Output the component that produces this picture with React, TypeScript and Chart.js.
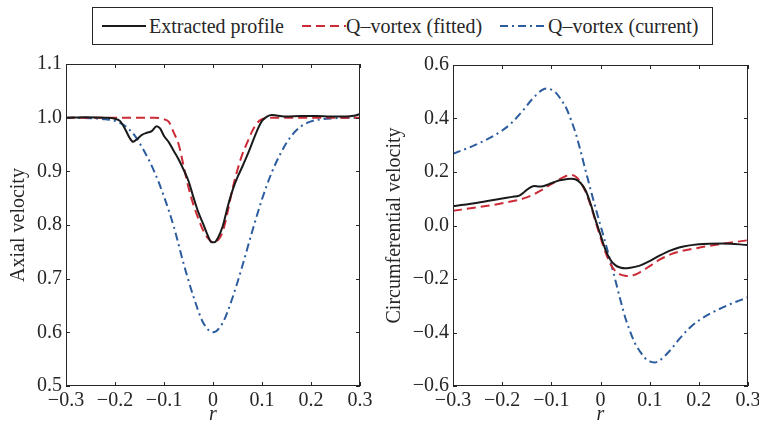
import React, { useEffect, useRef } from "react";
import { Chart, registerables } from "chart.js";

Chart.register(...registerables);

// ---------- Data ----------
const axialExtractedR = [-0.3, -0.26, -0.22, -0.2, -0.19, -0.18, -0.17, -0.163, -0.155, -0.145, -0.135, -0.125, -0.115, -0.108, -0.1, -0.09, -0.08, -0.07, -0.06, -0.05, -0.04, -0.03, -0.02, -0.01, -0.003, 0.003, 0.01, 0.02, 0.03, 0.04, 0.05, 0.06, 0.07, 0.08, 0.09, 0.1, 0.11, 0.12, 0.13, 0.15, 0.18, 0.21, 0.24, 0.27, 0.29, 0.3];
const axialExtracted = [1.0, 1.001, 1.0, 0.998, 0.994, 0.98, 0.962, 0.955, 0.96, 0.968, 0.972, 0.975, 0.984, 0.98, 0.966, 0.954, 0.938, 0.922, 0.903, 0.882, 0.852, 0.824, 0.802, 0.779, 0.768, 0.768, 0.776, 0.798, 0.834, 0.865, 0.889, 0.909, 0.93, 0.953, 0.976, 0.994, 1.002, 1.005, 1.004, 1.002, 1.003, 1.003, 1.002, 1.002, 1.004, 1.007];

const axialFittedR = [-0.3, -0.2, -0.12, -0.1, -0.09, -0.08, -0.07, -0.06, -0.05, -0.04, -0.03, -0.02, -0.01, 0, 0.01, 0.02, 0.03, 0.04, 0.05, 0.06, 0.07, 0.08, 0.09, 0.1, 0.12, 0.2, 0.3];
const axialFitted = [1.0, 1.0, 1.0, 0.997, 0.992, 0.972, 0.95, 0.91, 0.87, 0.838, 0.812, 0.79, 0.775, 0.768, 0.772, 0.788, 0.825, 0.868, 0.903, 0.932, 0.954, 0.975, 0.99, 0.997, 1.0, 1.0, 1.0];

const axialCurrentR = [-0.3, -0.25, -0.22, -0.2, -0.18, -0.16, -0.14, -0.12, -0.1, -0.08, -0.06, -0.04, -0.02, 0, 0.02, 0.04, 0.06, 0.08, 0.1, 0.12, 0.14, 0.16, 0.18, 0.2, 0.22, 0.25, 0.3];
const axialCurrent = [1.0, 0.999, 0.997, 0.994, 0.985, 0.967, 0.937, 0.9, 0.853, 0.797, 0.728, 0.667, 0.618, 0.6, 0.618, 0.665, 0.724, 0.788, 0.848, 0.898, 0.937, 0.966, 0.984, 0.993, 0.997, 0.999, 1.0];

const circExtractedR = [-0.3, -0.25, -0.2, -0.18, -0.165, -0.155, -0.145, -0.135, -0.125, -0.115, -0.1, -0.09, -0.08, -0.07, -0.06, -0.05, -0.04, -0.03, -0.02, -0.01, 0, 0.01, 0.02, 0.03, 0.04, 0.05, 0.06, 0.08, 0.1, 0.12, 0.14, 0.16, 0.2, 0.25, 0.3];
const circExtracted = [0.072, 0.085, 0.101, 0.107, 0.112, 0.125, 0.14, 0.148, 0.146, 0.148, 0.158, 0.165, 0.17, 0.173, 0.175, 0.172, 0.158, 0.13, 0.08, 0.02, -0.035, -0.09, -0.128, -0.148, -0.157, -0.16, -0.158, -0.15, -0.133, -0.113, -0.095, -0.082, -0.07, -0.067, -0.073];

const circFittedR = [-0.3, -0.25, -0.2, -0.15, -0.12, -0.1, -0.08, -0.07, -0.06, -0.05, -0.04, -0.03, -0.02, -0.01, 0, 0.01, 0.02, 0.03, 0.04, 0.05, 0.06, 0.07, 0.08, 0.1, 0.12, 0.15, 0.2, 0.25, 0.3];
const circFitted = [0.055, 0.068, 0.083, 0.105, 0.132, 0.155, 0.176, 0.185, 0.189, 0.182, 0.16, 0.125, 0.075, 0.015, -0.045, -0.1, -0.143, -0.17, -0.183, -0.188, -0.189, -0.184, -0.175, -0.152, -0.128, -0.103, -0.083, -0.068, -0.055];

const circCurrentR = [-0.3, -0.25, -0.2, -0.18, -0.16, -0.14, -0.12, -0.11, -0.1, -0.09, -0.08, -0.07, -0.06, -0.05, -0.04, -0.03, -0.02, -0.01, 0, 0.01, 0.02, 0.03, 0.04, 0.05, 0.06, 0.07, 0.08, 0.09, 0.1, 0.11, 0.12, 0.14, 0.16, 0.18, 0.2, 0.25, 0.3];
const circCurrent = [0.268, 0.305, 0.355, 0.385, 0.425, 0.47, 0.505, 0.512, 0.508, 0.495, 0.47, 0.44, 0.395, 0.342, 0.275, 0.203, 0.133, 0.065, 0.0, -0.065, -0.133, -0.203, -0.275, -0.342, -0.395, -0.44, -0.47, -0.495, -0.508, -0.512, -0.505, -0.47, -0.425, -0.385, -0.355, -0.305, -0.268];

const xTickValues = [-0.3, -0.2, -0.1, 0, 0.1, 0.2, 0.3];
const xTickLabels = ["\u22120.3", "\u22120.2", "\u22120.1", "0", "0.1", "0.2", "0.3"];
const axialTickValues = [0.5, 0.6, 0.7, 0.8, 0.9, 1.0, 1.1];
const axialTickLabels = ["0.5", "0.6", "0.7", "0.8", "0.9", "1.0", "1.1"];
const circTickValues = [-0.6, -0.4, -0.2, 0, 0.2, 0.4, 0.6];
const circTickLabels = ["\u22120.6", "\u22120.4", "\u22120.2", "0.0", "0.2", "0.4", "0.6"];

const seriesNames = ["Extracted profile", "Q\u2013vortex (fitted)", "Q\u2013vortex (current)"];

// ---------- Styles ----------
const FONT = "'Liberation Serif', 'Times New Roman', serif";
const INK = "#262626";
const BLACK = "#1a1a1a";
const RED = "#cc2a36";
const BLUE = "#2b5c9e";
const RED_DASH = [9, 5];
const BLUE_DASH = [8, 4, 2, 4];

const pts = (xs: number[], ys: number[]) => xs.map((x, i) => ({ x, y: ys[i] }));

const framePlugin = {
  id: "frame",
  afterDatasetsDraw(chart: any) {
    const { ctx, chartArea, scales } = chart;
    const { left, right, top, bottom } = chartArea;
    const tl = 4;
    ctx.save();
    ctx.strokeStyle = INK;
    ctx.lineWidth = 1;
    ctx.setLineDash([]);
    ctx.beginPath();
    scales.x.ticks.forEach((t: any) => {
      const p = Math.round(scales.x.getPixelForValue(t.value)) + 0.5;
      ctx.moveTo(p, bottom);
      ctx.lineTo(p, bottom - tl);
      ctx.moveTo(p, top);
      ctx.lineTo(p, top + tl);
    });
    scales.y.ticks.forEach((t: any) => {
      const p = Math.round(scales.y.getPixelForValue(t.value)) + 0.5;
      ctx.moveTo(left, p);
      ctx.lineTo(left + tl, p);
      ctx.moveTo(right, p);
      ctx.lineTo(right - tl, p);
    });
    ctx.stroke();
    ctx.strokeRect(left + 0.5, top + 0.5, right - left - 1, bottom - top - 1);
    ctx.restore();
  },
};

type PanelProps = {
  left: number;
  top: number;
  width: number;
  height: number;
  yWidth: number;
  padTop: number;
  padRight: number;
  yTitle: string;
  yMin: number;
  yMax: number;
  yTickValues: number[];
  yTickLabels: string[];
  series: { x: number[]; y: number[] }[];
};

function Panel(p: PanelProps) {
  const ref = useRef<HTMLCanvasElement | null>(null);
  useEffect(() => {
    if (!ref.current) return;
    const colors = [BLACK, RED, BLUE];
    const dashes = [[], RED_DASH, BLUE_DASH];
    const chart = new Chart(ref.current, {
      type: "line",
      data: {
        datasets: p.series.map((s, i) => ({
          label: seriesNames[i],
          data: pts(s.x, s.y),
          borderColor: colors[i],
          borderWidth: 2,
          borderDash: dashes[i],
          pointRadius: 0,
          fill: false,
          cubicInterpolationMode: "monotone",
          borderCapStyle: "butt",
          borderJoinStyle: "round",
        })),
      },
      options: {
        animation: false,
        responsive: false,
        events: [],
        layout: { padding: { top: p.padTop, right: p.padRight, left: 0, bottom: 0 } },
        plugins: { legend: { display: false }, tooltip: { enabled: false } },
        scales: {
          x: {
            type: "linear",
            min: -0.3,
            max: 0.3,
            grid: { display: false, drawTicks: false },
            border: { display: false },
            afterBuildTicks: (scale: any) => {
              scale.ticks = xTickValues.map((v) => ({ value: v }));
            },
            afterFit: (scale: any) => {
              scale.height = 39;
              scale.paddingLeft = 0;
              scale.paddingRight = 0;
            },
            ticks: {
              autoSkip: false,
              maxRotation: 0,
              padding: 3,
              color: INK,
              font: { family: FONT, size: 20 },
              callback: (_v: any, i: number) => xTickLabels[i],
            },
            title: {
              display: true,
              text: "r",
              color: INK,
              font: { family: FONT, size: 20, style: "italic", lineHeight: 1 },
              padding: 0,
            },
          },
          y: {
            type: "linear",
            min: p.yMin,
            max: p.yMax,
            grid: { display: false, drawTicks: false },
            border: { display: false },
            afterBuildTicks: (scale: any) => {
              scale.ticks = p.yTickValues.map((v) => ({ value: v }));
            },
            afterFit: (scale: any) => {
              scale.width = p.yWidth;
              scale.paddingTop = 0;
              scale.paddingBottom = 0;
            },
            ticks: {
              autoSkip: false,
              padding: 4,
              color: INK,
              font: { family: FONT, size: 20 },
              callback: (_v: any, i: number) => p.yTickLabels[i],
            },
            title: {
              display: true,
              text: p.yTitle,
              color: INK,
              font: { family: FONT, size: 20 },
              padding: { top: 7, bottom: 0 },
            },
          },
        },
      },
      plugins: [framePlugin],
    } as any);
    return () => chart.destroy();
  }, []);
  return (
    <canvas
      ref={ref}
      width={p.width}
      height={p.height}
      style={{ position: "absolute", left: p.left, top: p.top, width: p.width, height: p.height }}
    />
  );
}

function LegendSample({ left, color, dash }: { left: number; color: string; dash: number[] }) {
  return (
    <svg width={44} height={6} style={{ position: "absolute", left, top: 23 }}>
      <line x1={0} y1={3} x2={44} y2={3} stroke={color} strokeWidth={2} strokeDasharray={dash.length ? dash.join(" ") : undefined} />
    </svg>
  );
}

function LegendText({ left, text }: { left: number; text: string }) {
  return (
    <span
      style={{
        position: "absolute",
        left,
        top: 15,
        fontFamily: FONT,
        fontSize: 20,
        lineHeight: "22px",
        color: INK,
        whiteSpace: "nowrap",
      }}
    >
      {text}
    </span>
  );
}

export default function App() {
  return (
    <div style={{ position: "absolute", left: 0, top: 0, width: 759, height: 425, overflow: "hidden", background: "#fff" }}>
      <Panel
        left={0}
        top={48}
        width={376}
        height={377}
        yWidth={66}
        padTop={16}
        padRight={16}
        yTitle="Axial velocity"
        yMin={0.5}
        yMax={1.1}
        yTickValues={axialTickValues}
        yTickLabels={axialTickLabels}
        series={[
          { x: axialExtractedR, y: axialExtracted },
          { x: axialFittedR, y: axialFitted },
          { x: axialCurrentR, y: axialCurrent },
        ]}
      />
      <Panel
        left={376}
        top={48}
        width={383}
        height={377}
        yWidth={77}
        padTop={17}
        padRight={11}
        yTitle="Circumferential velocity"
        yMin={-0.6}
        yMax={0.6}
        yTickValues={circTickValues}
        yTickLabels={circTickLabels}
        series={[
          { x: circExtractedR, y: circExtracted },
          { x: circFittedR, y: circFitted },
          { x: circCurrentR, y: circCurrent },
        ]}
      />
      <div
        style={{
          position: "absolute",
          left: 92,
          top: 7,
          width: 621,
          height: 38,
          border: `1px solid ${INK}`,
          boxSizing: "border-box",
          background: "#fff",
        }}
      />
      <LegendSample left={102} color={BLACK} dash={[]} />
      <LegendText left={149} text={seriesNames[0]} />
      <LegendSample left={302} color={RED} dash={RED_DASH} />
      <LegendText left={346} text={seriesNames[1]} />
      <LegendSample left={500} color={BLUE} dash={BLUE_DASH} />
      <LegendText left={548} text={seriesNames[2]} />
    </div>
  );
}
